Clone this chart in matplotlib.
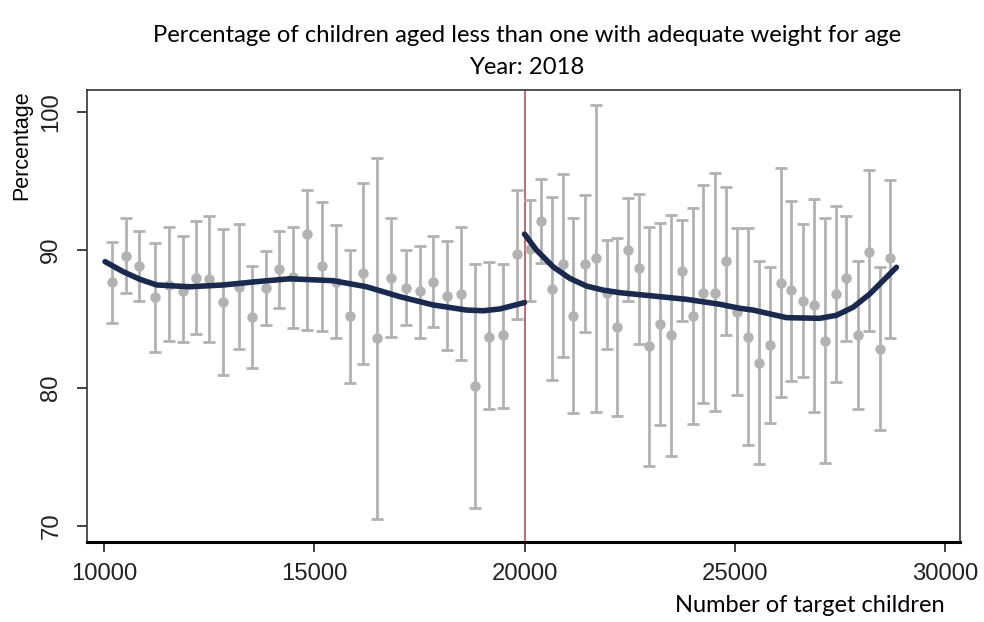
import numpy as np
import matplotlib
matplotlib.use("Agg")
import matplotlib.pyplot as plt

# binned means with confidence intervals, left of the cutoff
x_left = [10176, 10516, 10833, 11206, 11539, 11865, 12181, 12498, 12831, 13197,
          13520, 13839, 14163, 14496, 14814, 15185, 15511, 15844, 16161, 16494,
          16813, 17177, 17510, 17826, 18145, 18492, 18811, 19158, 19491, 19824]
mean_left = [87.72, 89.60, 88.85, 86.63, 87.48, 87.04, 88.01, 87.91, 86.22, 87.31,
             85.13, 87.24, 88.61, 88.08, 91.20, 88.83, 87.70, 85.23, 88.32, 83.65,
             88.01, 87.24, 87.04, 87.72, 86.70, 86.82, 80.15, 83.73, 83.83, 89.72]
hi_left = [90.62, 92.31, 91.39, 90.50, 91.70, 91.03, 92.12, 92.48, 91.52, 91.90,
           88.85, 89.92, 91.39, 91.66, 94.37, 93.50, 91.81, 90.01, 94.89, 96.66,
           92.31, 90.01, 90.33, 91.03, 90.69, 91.70, 89.02, 89.12, 89.02, 94.37]
lo_left = [84.74, 86.92, 86.34, 82.64, 83.44, 83.34, 83.92, 83.34, 80.95, 82.86,
           81.46, 84.55, 85.81, 84.36, 84.21, 84.16, 83.63, 80.35, 81.73, 70.51,
           83.73, 84.55, 83.63, 84.43, 82.74, 82.06, 71.33, 78.46, 78.58, 85.03]

# binned means with confidence intervals, right of the cutoff
x_right = [20126, 20381, 20642, 20904, 21156, 21434, 21696, 21965, 22203, 22464,
           22726, 22964, 23218, 23480, 23749, 24003, 24248, 24527, 24805, 25057,
           25319, 25573, 25835, 26097, 26351, 26627, 26881, 27143, 27405, 27659,
           27935, 28197, 28451, 28706]
mean_right = [90.07, 92.12, 87.21, 88.98, 85.23, 89.00, 89.41, 86.87, 84.45, 90.01,
              88.71, 83.05, 84.65, 83.85, 88.51, 85.23, 86.87, 86.92, 89.24, 85.54,
              83.73, 81.84, 83.13, 87.60, 87.11, 86.34, 86.03, 83.44, 86.82, 88.01,
              83.85, 89.89, 82.84, 89.41]
hi_right = [93.64, 95.18, 93.88, 95.50, 92.31, 94.00, 100.55, 90.74, 90.91, 93.81,
            94.10, 91.70, 91.99, 92.55, 92.19, 93.08, 94.71, 95.58, 94.58, 91.63,
            91.63, 89.24, 88.80, 95.98, 93.59, 91.88, 93.69, 92.31, 93.21, 92.48,
            89.24, 95.79, 88.80, 95.09]
lo_right = [86.34, 89.05, 80.59, 82.23, 78.17, 84.07, 78.27, 82.86, 77.98, 86.34,
            83.20, 74.37, 77.30, 75.08, 84.89, 77.37, 78.94, 78.36, 83.85, 79.50,
            75.87, 74.50, 77.49, 79.38, 80.54, 80.78, 78.27, 74.59, 80.46, 83.44,
            78.46, 84.16, 76.96, 83.61]

# fitted curves
fit_x_left = [10019, 10452, 10849, 11246, 12039, 12831, 13625, 14417, 15447,
              16242, 17034, 17826, 18620, 19015, 19412, 20000]
fit_y_left = [89.17, 88.44, 87.89, 87.48, 87.35, 87.48, 87.72, 87.93, 87.79,
              87.35, 86.63, 86.03, 85.66, 85.61, 85.74, 86.20]
fit_x_right = [20000, 20285, 20680, 21077, 21475, 21869, 22267, 23059, 23853,
               24645, 25121, 25437, 26232, 27024, 27421, 27816, 28213, 28611, 28849]
fit_y_right = [91.17, 90.01, 88.80, 87.96, 87.40, 87.11, 86.92, 86.68, 86.44,
               86.08, 85.79, 85.66, 85.11, 85.06, 85.28, 85.86, 86.82, 88.03, 88.76]

cutoff = 20000
x_ticks = [10000, 15000, 20000, 25000, 30000]
y_ticks = [70, 80, 90, 100]

gray = "#b2b2b2"
navy = "#1a2a4e"

fig = plt.figure(figsize=(9.84, 6.22), dpi=100)
ax = fig.add_axes([0.0887, 0.1291, 0.8867, 0.7262])

for xs, ms, hs, ls in [(x_left, mean_left, hi_left, lo_left),
                       (x_right, mean_right, hi_right, lo_right)]:
    xs = np.array(xs)
    ms = np.array(ms)
    yerr = [ms - np.array(ls), np.array(hs) - ms]
    ax.errorbar(xs, ms, yerr=yerr, fmt="o", color=gray, ecolor=gray,
                markersize=6.5, elinewidth=2, capsize=4.5, capthick=2, zorder=2)

ax.axvline(cutoff, color="#b5544f", lw=1.2, zorder=1)
ax.plot(fit_x_left, fit_y_left, color=navy, lw=4, solid_capstyle="round", zorder=3)
ax.plot(fit_x_right, fit_y_right, color=navy, lw=4, solid_capstyle="round", zorder=3)

ax.set_xlim(9596, 30357)
ax.set_ylim(68.86, 101.62)
ax.set_xticks(x_ticks)
ax.set_yticks(y_ticks)
ax.set_xticklabels([str(t) for t in x_ticks], fontfamily="Liberation Sans", fontsize=17.2)
ax.set_yticklabels([str(t) for t in y_ticks], fontfamily="Liberation Sans", fontsize=17.2,
                   rotation=90, va="center")
ax.tick_params(axis="x", length=7, width=1.2, pad=8, colors="#222222")
ax.tick_params(axis="y", length=7, width=1.2, pad=11, colors="#222222")

for s in ["top", "right", "left"]:
    ax.spines[s].set_color("#333333")
    ax.spines[s].set_linewidth(1.2)
ax.spines["bottom"].set_color("black")
ax.spines["bottom"].set_linewidth(2.2)

fig.text(0.5356, 1 - 36 / 622, "Percentage of children aged less than one with adequate weight for age",
         ha="center", va="center", fontfamily="Lato", fontsize=17.2)
fig.text(0.5356, 1 - 68 / 622, "Year: 2018", ha="center", va="center",
         fontfamily="Lato", fontsize=17.2)
fig.text(22 / 984, 1 - 90 / 622, "Percentage", rotation=90, ha="center", va="top",
         fontfamily="Liberation Sans", fontsize=15.5)
fig.text(945 / 984, 1 - 606 / 622, "Number of target children", ha="right", va="center",
         fontfamily="Lato", fontsize=17)

fig.savefig("out.png", dpi=100)
